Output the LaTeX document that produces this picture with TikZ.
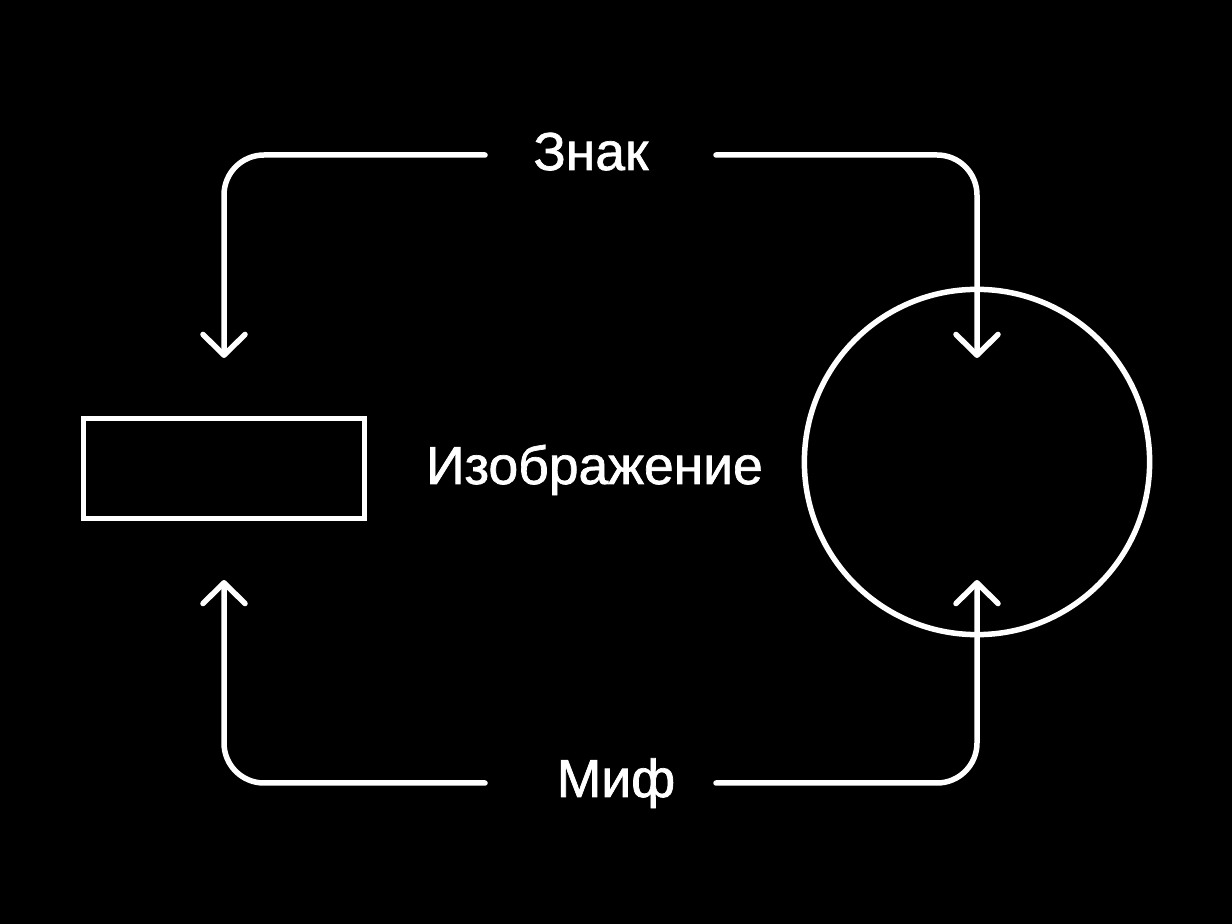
\documentclass[tikz,border=0pt]{standalone}
\usepackage{fontspec}
\setmainfont[FakeBold=1.3]{Liberation Sans}
\usetikzlibrary{arrows.meta}
\begin{document}
\begin{tikzpicture}[x=0.025cm,y=-0.025cm]
\tikzstyle{box} = [rectangle, minimum width=7.03cm, minimum height=2.5cm, inner sep=0pt, draw=white, line width=5.5*0.025cm]
\tikzstyle{round} = [circle, minimum size=8.63cm, inner sep=0pt, draw=white, line width=5.5*0.025cm]
\tikzstyle{label} = [text=white, inner sep=0pt, anchor=base, font=\fontsize{38}{41}\selectfont]
\tikzstyle{arrow} = [white, line width=5.5*0.025cm, line cap=round, rounded corners=1cm, -{Straight Barb[length=0.52cm, width=1.05cm, round]}]

\fill[black] (0,0) rectangle (1232,924);
\useasboundingbox (0,0) rectangle (1232,924);

%nodes
\node (image) [box] at (224,468.5) {};
\node (form) [round] at (977,462) {};
\node (sign) [label] at (591,170) {Знак};
\node (picture) [label] at (594.5,484) {Изображение};
\node (myth) [label] at (616,797) {Миф};

%free ends
\coordinate (sign-l) at (485,155);
\coordinate (sign-r) at (716,155);
\coordinate (myth-l) at (485,783);
\coordinate (myth-r) at (716,783);
\coordinate (image-top) at (224,358);
\coordinate (image-bot) at (224,580);
\coordinate (form-top) at (977,358);
\coordinate (form-bot) at (977,580);

%lines
\draw [arrow] (sign-l) -| (image-top);
\draw [arrow] (sign-r) -| (form-top);
\draw [arrow] (myth-l) -| (image-bot);
\draw [arrow] (myth-r) -| (form-bot);

\end{tikzpicture}
\end{document}
